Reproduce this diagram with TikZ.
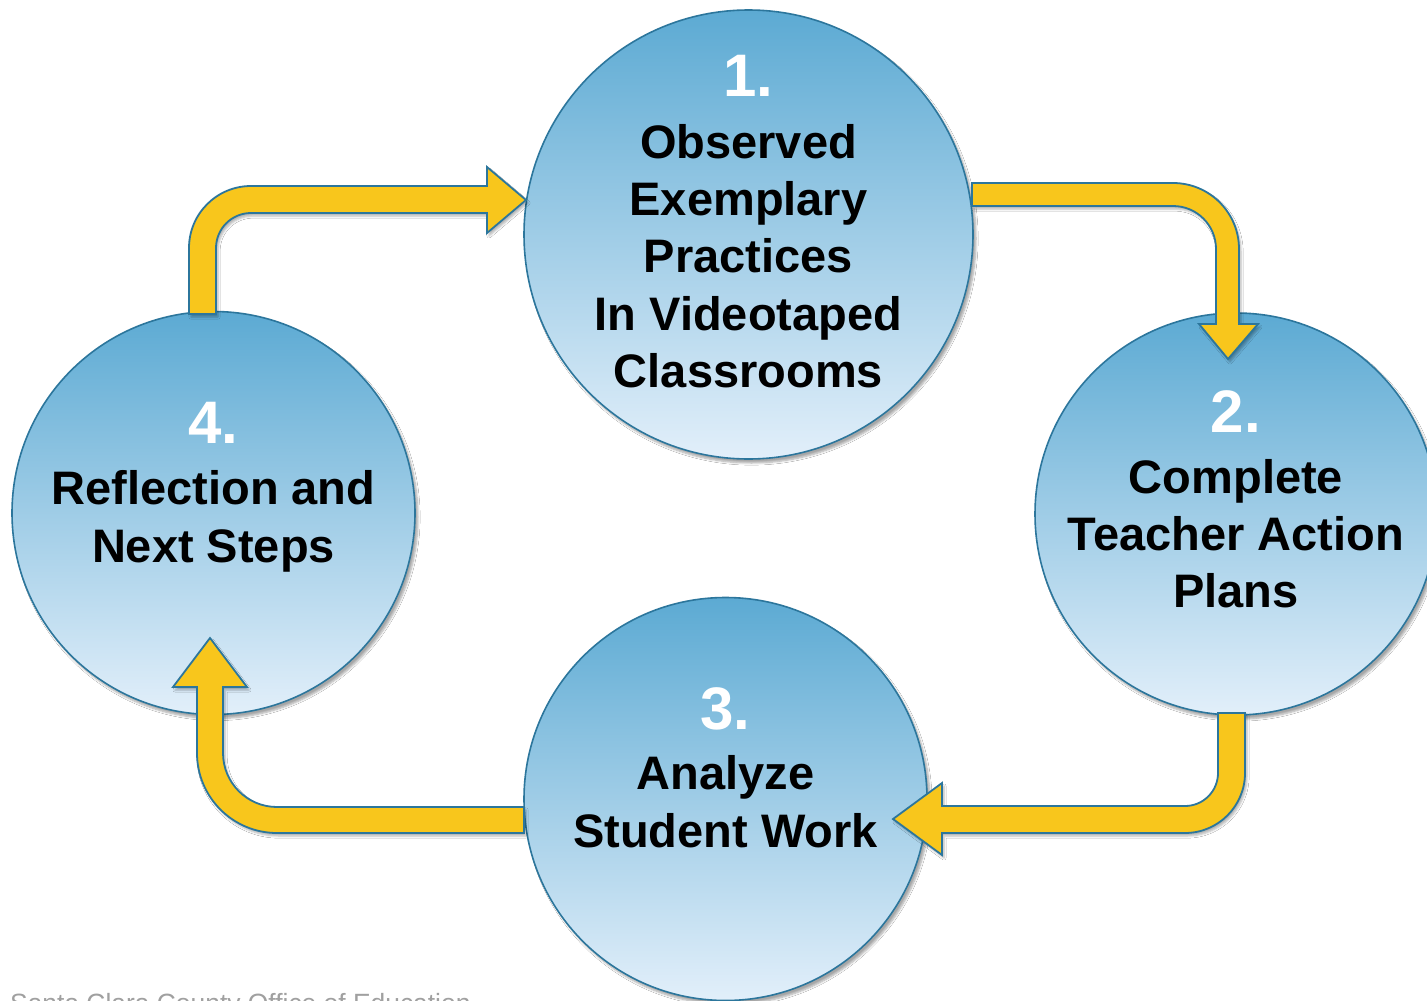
\documentclass[tikz,border=0pt]{standalone}
\usepackage{fontspec}
\setmainfont{Liberation Sans}
\usetikzlibrary{shadows.blur}
\definecolor{cTop}{RGB}{92,170,211}
\definecolor{cBot}{RGB}{226,239,250}
\definecolor{cLine}{RGB}{44,118,156}
\definecolor{aFill}{RGB}{248,198,28}
\definecolor{footGray}{RGB}{160,160,160}
\tikzset{
  bubble/.style={circle, draw=cLine, line width=1.6pt, top color=cTop, bottom color=cBot, inner sep=0pt,
    blur shadow={shadow xshift=3pt, shadow yshift=-4pt, shadow blur steps=6, shadow opacity=35}},
  bentarrow/.style={draw=cLine, line width=1.8pt, fill=aFill, line join=miter,
    blur shadow={shadow xshift=2pt, shadow yshift=-3pt, shadow blur steps=4, shadow opacity=30}},
  numtxt/.style={anchor=base, inner sep=0pt, text=white, font=\bfseries\fontsize{60}{60}\selectfont},
  steptxt/.style={anchor=base, inner sep=0pt, text=black, font=\bfseries\fontsize{47}{57}\selectfont},
}
\begin{document}
\begin{tikzpicture}[x=1pt, y=-1pt]
\useasboundingbox (0,0) rectangle (1427,1001);
\fill[white] (0,0) rectangle (1427,1001);

% circles
\node[bubble, minimum size=449pt] (c1) at (748.5,234.5) {};
\node[bubble, minimum size=402pt] (c2) at (1236,514) {};
\node[bubble, minimum size=403pt] (c3) at (725.5,799) {};
\node[bubble, minimum size=403pt] (c4) at (213.5,513) {};

% arrow 4 -> 1
\path[bentarrow] (189,314) -- (189,248) arc[start angle=180, end angle=270, radius=62]
  -- (487,186) -- (487,167) -- (526,200) -- (487,233) -- (487,213) -- (251,213)
  arc[start angle=270, end angle=180, radius=35] -- (216,314) -- cycle;
% arrow 1 -> 2
\path[bentarrow] (972,183) -- (1173,183) arc[start angle=270, end angle=360, radius=66]
  -- (1239,324) -- (1258,324) -- (1228,359) -- (1199,324) -- (1216,324) -- (1216,249)
  arc[start angle=0, end angle=-90, radius=43] -- (972,206) -- cycle;
% arrow 2 -> 3
\path[bentarrow] (1245,713) -- (1245,773) arc[start angle=0, end angle=90, radius=60]
  -- (942,833) -- (942,855) -- (893,819) -- (942,783) -- (942,806) -- (1185,806)
  arc[start angle=90, end angle=0, radius=33] -- (1218,713) -- cycle;
% arrow 3 -> 4
\path[bentarrow] (524,807) -- (277,807) arc[start angle=90, end angle=180, radius=54]
  -- (223,687) -- (247,687) -- (210,638) -- (173,687) -- (197,687) -- (197,753)
  arc[start angle=180, end angle=90, radius=80] -- (524,833) -- cycle;

% texts circle 1
\node[numtxt] (n1) at (748.5,96.7) {1.};
\node[steptxt] (t1a) at (748.5,158) {Observed};
\node[steptxt] (t1b) at (748.5,215) {Exemplary};
\node[steptxt] (t1c) at (748.5,272) {Practices};
\node[steptxt] (t1d) at (748.5,330) {In Videotaped};
\node[steptxt] (t1e) at (748.5,387) {Classrooms};
% circle 2
\node[numtxt] (n2) at (1236,432) {2.};
\node[steptxt] (t2a) at (1236,493) {Complete};
\node[steptxt] (t2b) at (1236,550) {Teacher Action};
\node[steptxt] (t2c) at (1236,607) {Plans};
% circle 3
\node[numtxt] (n3) at (725.5,729) {3.};
\node[steptxt] (t3a) at (725.5,789) {Analyze};
\node[steptxt] (t3b) at (725.5,847) {Student Work};
% circle 4
\node[numtxt] (n4) at (213.5,443) {4.};
\node[steptxt] (t4a) at (213.5,504) {Reflection and};
\node[steptxt] (t4b) at (213.5,562) {Next Steps};

% footer
\node[anchor=base west, inner sep=0pt, text=footGray, font=\fontsize{26.4}{30}\selectfont] (foot) at (10,1012) {Santa Clara County Office of Education};
\end{tikzpicture}
\end{document}
